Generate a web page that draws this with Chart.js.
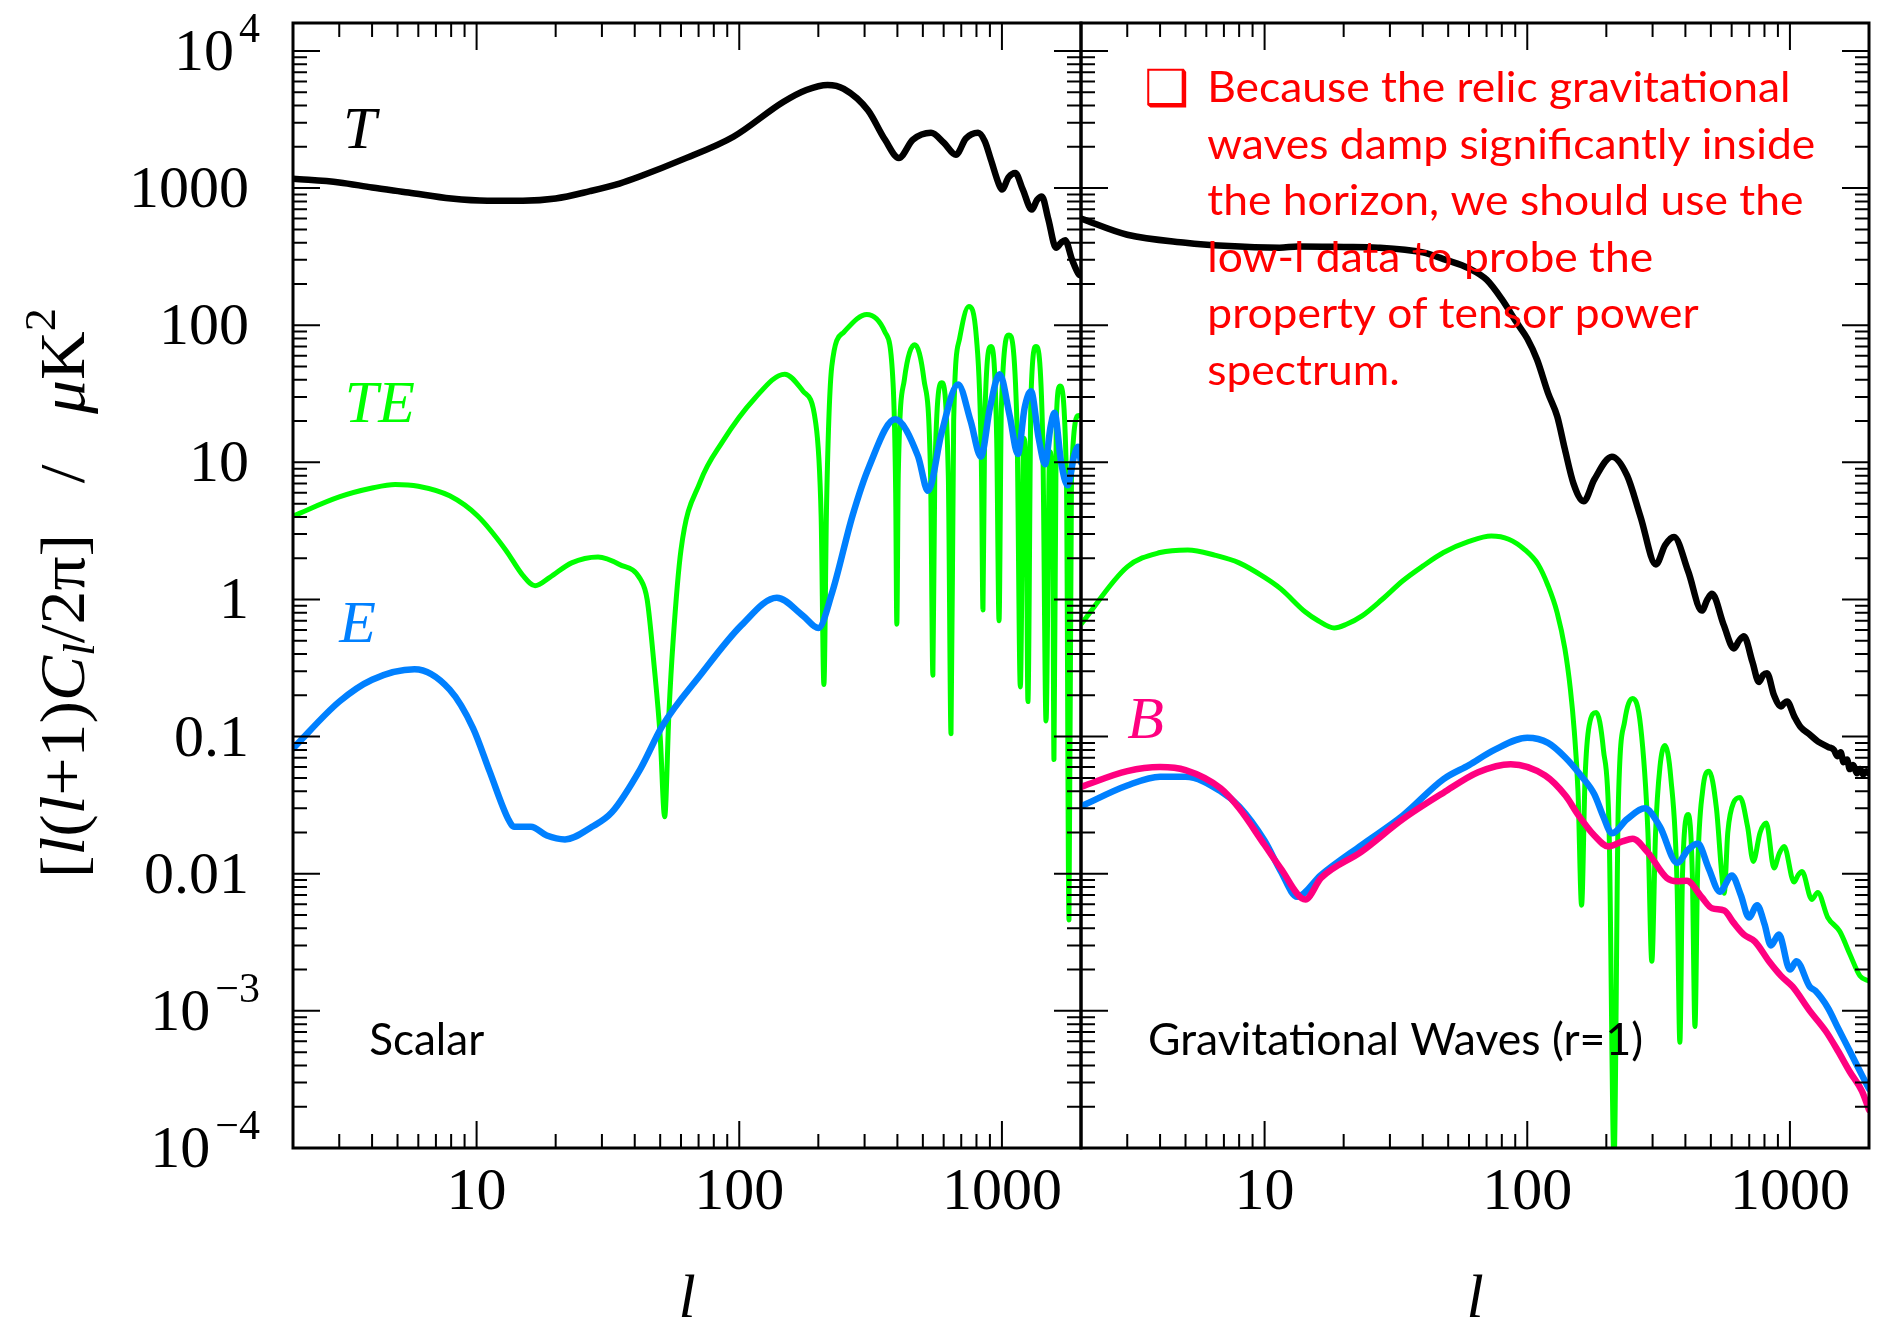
<!DOCTYPE html>
<html>
<head>
<meta charset="utf-8">
<script src="https://cdn.jsdelivr.net/npm/chart.js@4.4.1/dist/chart.umd.min.js"></script>
<style>
  html, body { margin: 0; padding: 0; background: #fff; }
  #wrap { position: relative; width: 1878px; height: 1334px; }
  #wrap canvas { position: absolute; left: 0; top: 0; }
</style>
</head>
<body>
<div id="wrap">
  <canvas id="chart-scalar" width="1878" height="1334"></canvas>
  <canvas id="chart-tensor" width="1878" height="1334"></canvas>
</div>
<script>
'use strict';

// ─── Data: scalar panel (multipole l, |l(l+1)C_l/2pi| in uK^2) ────────────────

const lScalarT = [2, 3, 4, 5.5, 8, 11, 15, 20, 27, 35, 42, 60, 95, 147, 180, 217, 250, 309, 359, 405,
  458, 537, 601, 668, 729, 811, 860, 908, 975, 1000, 1060, 1124, 1200, 1300, 1360, 1419, 1500, 1607, 1680, 1740,
  1850, 1965, 2000];
const scalarT = [1170, 1100, 1010, 930, 840, 810, 810, 840, 950, 1080, 1220, 1600, 2370, 4250, 5200, 5660, 5300, 3700, 2250, 1660,
  2250, 2530, 2140, 1750, 2300, 2530, 2200, 1610, 1060, 975, 1200, 1290, 980, 697, 820, 870, 600, 368, 400, 417,
  300, 234, 230];

const lScalarTE = [2, 3, 4, 4.9, 6, 7.9, 10.1, 12.9, 15, 16.7, 19, 23, 29, 35, 42, 44.6, 47.4, 50, 52, 54,
  56, 60, 71, 86, 114, 149, 175, 195, 205, 210, 215, 225, 250, 306, 359, 385, 394, 398, 403, 425,
  466, 505, 535, 546, 555, 590, 625, 640, 655, 690, 748, 800, 835, 847, 860, 908, 955, 975, 995, 1064,
  1140, 1175, 1210, 1235, 1256, 1290, 1348, 1430, 1472, 1520, 1560, 1578, 1610, 1663, 1760, 1800, 1840, 1962, 2000];
const scalarTE = [4.06, 5.6, 6.5, 6.9, 6.7, 5.7, 4.06, 2.3, 1.5, 1.26, 1.45, 1.85, 2.04, 1.8, 1.41, 1.0, 0.33, 0.1, 0.026, 0.15,
  0.5, 2.3, 7.2, 14, 29, 44, 33, 20, 4, 0.24, 5, 50, 89, 120, 89, 38, 6, 0.66, 8, 40,
  72, 40, 8, 0.28, 8, 38, 8, 0.105, 20, 80, 137, 80, 10, 0.84, 20, 70, 15, 0.7, 25, 85,
  20, 0.23, 15, 10, 0.18, 30, 70, 15, 0.13, 12, 5, 0.068, 20, 36, 8, 0.0046, 8, 22, 22];

const lScalarE = [2, 3, 4, 5.8, 7.9, 9.7, 11.2, 13.2, 13.9, 16.1, 18.5, 21.7, 27.5, 32.7, 42, 51, 71, 102, 139, 175,
  200, 225, 270, 312, 392, 479, 523, 590, 681, 760, 832, 900, 980, 1070, 1150, 1220, 1290, 1380, 1460, 1530,
  1585, 1680, 1780, 1880, 1950, 2000];
const scalarE = [0.082, 0.18, 0.26, 0.31, 0.22, 0.115, 0.056, 0.025, 0.022, 0.022, 0.019, 0.0178, 0.022, 0.028, 0.058, 0.12, 0.28, 0.65, 1.03, 0.76,
  0.62, 1.1, 4.1, 9.3, 20.6, 11.1, 6.2, 16.6, 37, 20, 11, 25, 44, 22, 11.5, 25, 33, 15, 9.7, 18,
  23, 10, 6.8, 11, 13, 10];

// ─── Data: gravitational wave panel (r = 1) ───────────────────────────────────

const lTensorT = [2, 3, 5, 7, 11.4, 13.4, 20, 27, 40, 49, 60, 70, 80, 91, 100, 109, 120, 130, 139, 150,
  164, 180, 210, 240, 270, 309, 335, 362, 410, 462, 485, 505, 560, 612, 640, 668, 720, 762, 790, 818,
  870, 925, 950, 975, 1040, 1100, 1180, 1280, 1400, 1470, 1515, 1560, 1600, 1650, 1690, 1740, 1800, 1850, 1900, 1950, 2000];
const tensorT = [600, 457, 400, 380, 368, 375, 372, 368, 340, 300, 260, 215, 155, 105, 80, 56, 32, 21.7, 12.5, 7,
  5.2, 7.5, 11, 8, 4, 1.8, 2.5, 2.86, 1.6, 0.83, 1.0, 1.1, 0.65, 0.44, 0.5, 0.54, 0.35, 0.25, 0.28, 0.29,
  0.2, 0.166, 0.175, 0.18, 0.14, 0.117, 0.105, 0.092, 0.084, 0.08, 0.072, 0.077, 0.065, 0.068, 0.058, 0.062, 0.054, 0.058, 0.053, 0.056, 0.054];

const lTensorTE = [2, 3, 4, 5.1, 6.5, 8, 10, 11.5, 14.3, 16, 18.4, 20.5, 23.5, 28, 33.6, 40, 48, 60, 73, 85,
  98, 110, 120, 130, 139, 146, 151, 156, 161, 166, 172, 183, 195, 205, 214, 222, 235, 252, 270, 288,
  298, 308, 320, 334, 352, 372, 381, 390, 410, 425, 435, 445, 465, 492, 525, 550, 562, 580, 610, 646,
  690, 725, 770, 813, 870, 910, 951, 1036, 1075, 1112, 1211, 1276, 1393, 1548, 1690, 1847, 2000];
const tensorTE = [0.66, 1.73, 2.2, 2.3, 2.1, 1.85, 1.45, 1.2, 0.81, 0.7, 0.62, 0.66, 0.76, 1.0, 1.37, 1.75, 2.2, 2.65, 2.9, 2.75,
  2.3, 1.8, 1.26, 0.8, 0.44, 0.22, 0.11, 0.04, 0.0059, 0.05, 0.12, 0.15, 0.08, 0.02, 0.00008, 0.03, 0.13, 0.19, 0.12, 0.02,
  0.0023, 0.02, 0.06, 0.086, 0.05, 0.008, 0.00059, 0.01, 0.027, 0.01, 0.00077, 0.01, 0.04, 0.056, 0.03, 0.01, 0.0072, 0.02, 0.033, 0.036,
  0.022, 0.0123, 0.02, 0.0234, 0.011, 0.014, 0.0158, 0.0087, 0.0098, 0.0104, 0.0065, 0.0073, 0.0048, 0.0038, 0.0026, 0.0018, 0.00165];

const lTensorE = [2, 3, 4, 5, 6.8, 8, 10, 11.5, 13.3, 16.4, 23.4, 33.6, 48, 60, 75, 100, 120, 139, 160, 180,
  195, 210, 240, 280, 320, 372, 410, 446, 490, 541, 601, 650, 698, 750, 800, 846, 908, 1000, 1059, 1190,
  1250, 1396, 1524, 1690, 1880, 2000];
const tensorE = [0.031, 0.044, 0.051, 0.051, 0.04, 0.031, 0.0174, 0.0105, 0.0068, 0.0098, 0.0162, 0.0266, 0.049, 0.062, 0.08, 0.098, 0.09, 0.071, 0.052, 0.038,
  0.026, 0.0197, 0.025, 0.030, 0.022, 0.012, 0.015, 0.0166, 0.011, 0.0074, 0.0097, 0.007, 0.0048, 0.0059, 0.0043, 0.003, 0.0036, 0.002, 0.0023, 0.0015,
  0.0014, 0.00105, 0.00075, 0.00051, 0.00034, 0.00027];

const lTensorB = [2, 3, 4, 5, 6.8, 8, 10, 11.5, 14.3, 16.4, 23.4, 33.6, 48, 65, 86.5, 117, 140, 156, 180, 204,
  230, 252, 286, 340, 372, 405, 460, 505, 562, 610, 668, 736, 832, 925, 1024, 1190, 1370, 1524, 1690, 1880, 2000];
const tensorB = [0.043, 0.056, 0.06, 0.057, 0.042, 0.030, 0.0162, 0.011, 0.0065, 0.0093, 0.0145, 0.025, 0.039, 0.055, 0.063, 0.052, 0.037, 0.027, 0.019, 0.0158,
  0.0172, 0.018, 0.0145, 0.0093, 0.0088, 0.0089, 0.0068, 0.0056, 0.0054, 0.0044, 0.0036, 0.0032, 0.0023, 0.0018, 0.0015, 0.001, 0.00071, 0.00051, 0.00036, 0.00026, 0.00019];

// ─── Axis ticks ───────────────────────────────────────────────────────────────

const yMajorTicks = [1e-4, 1e-3, 1e-2, 0.1, 1, 10, 100, 1000, 1e4];
const yTickText   = ['10^\u22124', '10^\u22123', '0.01', '0.1', '1', '10', '100', '1000', '10^4'];
const xMajorTicks = [10, 100, 1000];
const xTickText   = ['10', '100', '1000'];
const minorSteps  = [2, 3, 4, 5, 6, 7, 8, 9];

const L_MIN = 2, L_MAX = 2000, Y_MIN = 1e-4, Y_MAX = 16000;

// ─── Style ────────────────────────────────────────────────────────────────────

const C = {
  T:  '#000000',
  TE: '#00ff00',
  E:  '#0080ff',
  B:  '#ff0080',
  note: '#ff0000',
};
const SERIF = '"Liberation Serif", "DejaVu Serif", serif';
const SANS  = 'Lato, "Open Sans", sans-serif';

// ─── Helpers ─────────────────────────────────────────────────────────────────

function pts(ls, vs) {
  return ls.map(function(l, i) { return { x: l, y: vs[i] }; });
}

function curve(label, ls, vs, color, width, order) {
  return {
    label: label, data: pts(ls, vs), borderColor: color, borderWidth: width,
    pointRadius: 0, fill: false, cubicInterpolationMode: 'monotone', order: order,
  };
}

function minorOf(majors, lo, hi) {
  const out = [];
  majors.forEach(function(d) {
    minorSteps.forEach(function(m) { const v = d * m; if (v > lo && v < hi) out.push(v); });
  });
  return out;
}

function hLine(ctx, x1, y1, x2, y2) { ctx.moveTo(x1, y1); ctx.lineTo(x2, y2); }

// ─── Panel plugin: frame, inward ticks, labels ────────────────────────────────

function makePanelPlugin(cfg) {
  return {
    id: 'panel',
    afterDatasetsDraw: function(chart) {
      const ctx = chart.ctx, a = chart.chartArea;
      const xs = chart.scales.x, ys = chart.scales.y;
      ctx.save();

      // ticks
      ctx.strokeStyle = '#000';
      ctx.lineWidth = 2;
      ctx.beginPath();
      const yMinor = minorOf(yMajorTicks, Y_MIN, Y_MAX);
      yMajorTicks.forEach(function(v) {
        const py = ys.getPixelForValue(v);
        hLine(ctx, a.left, py, a.left + 27, py); hLine(ctx, a.right, py, a.right - 27, py);
      });
      yMinor.forEach(function(v) {
        const py = ys.getPixelForValue(v);
        hLine(ctx, a.left, py, a.left + 14, py); hLine(ctx, a.right, py, a.right - 14, py);
      });
      const xMinor = minorOf([1, 10, 100, 1000], L_MIN, L_MAX);
      xMajorTicks.forEach(function(v) {
        const px = xs.getPixelForValue(v);
        hLine(ctx, px, a.bottom, px, a.bottom - 27); hLine(ctx, px, a.top, px, a.top + 27);
      });
      xMinor.forEach(function(v) {
        const px = xs.getPixelForValue(v);
        hLine(ctx, px, a.bottom, px, a.bottom - 14); hLine(ctx, px, a.top, px, a.top + 14);
      });
      ctx.stroke();

      // frame
      ctx.lineWidth = 3;
      ctx.strokeRect(a.left, a.top, a.right - a.left, a.bottom - a.top);

      // x tick labels + axis title
      ctx.fillStyle = '#000';
      ctx.font = '60px ' + SERIF;
      ctx.textAlign = 'center';
      ctx.textBaseline = 'alphabetic';
      xMajorTicks.forEach(function(v, i) {
        ctx.fillText(xTickText[i], xs.getPixelForValue(v), a.bottom + 61);
      });
      ctx.font = 'italic 62px ' + SERIF;
      ctx.fillText('l', (a.left + a.right) / 2, a.bottom + 169);

      // y tick labels (left panel only)
      if (cfg.yLabels) {
        yMajorTicks.forEach(function(v, i) {
          const py = ys.getPixelForValue(v) + 19;
          const txt = yTickText[i];
          if (txt.indexOf('^') >= 0) {
            const parts = txt.split('^');
            ctx.font = '42px ' + SERIF;
            const ew = ctx.measureText(parts[1]).width;
            ctx.textAlign = 'left';
            ctx.fillText(parts[1], a.left - 33 - ew, py - 28);
            ctx.font = '60px ' + SERIF;
            ctx.textAlign = 'right';
            ctx.fillText(parts[0], a.left - 33 - ew - 5, py);
          } else {
            ctx.font = '60px ' + SERIF;
            ctx.textAlign = 'right';
            ctx.fillText(txt, a.left - 44, py);
          }
        });
      }

      // y axis title
      if (cfg.yTitle) drawYTitle(ctx, cfg.yTitle);

      // curve names and panel captions, anchored in data coordinates
      ctx.textAlign = 'left';
      (cfg.labels || []).forEach(function(lb) {
        const px = xs.getPixelForValue(lb.l), py = ys.getPixelForValue(lb.v);
        ctx.font = lb.font;
        ctx.fillStyle = lb.color;
        if (lb.width) {
          const w = ctx.measureText(lb.text).width;
          ctx.save();
          ctx.translate(px, py);
          ctx.scale(lb.width / w, 1);
          ctx.fillText(lb.text, 0, 0);
          ctx.restore();
        } else {
          ctx.fillText(lb.text, px, py);
        }
      });

      if (cfg.note) drawNote(ctx, xs, ys, cfg.note);
      ctx.restore();
    },
  };
}

function drawYTitle(ctx, t) {
  const fonts = {
    rm:  '64px ' + SERIF,
    it:  'italic 64px ' + SERIF,
    sub: 'italic 44px ' + SERIF,
    sup: '44px ' + SERIF,
  };
  const dy = { rm: 0, it: 0, sub: 10, sup: -29 };
  const parts = [
    ['[', 'rm'], ['l', 'it'], ['(', 'rm'], ['l', 'it'], ['+1)', 'rm'], ['C', 'it'], ['l', 'sub'],
    ['/2\u03c0]', 'rm'], ['   /   ', 'rm'], ['\u03bc', 'it'], ['K', 'rm'], ['2', 'sup'],
  ];
  let total = 0;
  const widths = parts.map(function(p) {
    ctx.font = fonts[p[1]];
    const w = ctx.measureText(p[0]).width;
    total += w;
    return w;
  });
  ctx.save();
  ctx.translate(t.x, t.y);
  ctx.rotate(-Math.PI / 2);
  ctx.scale(t.length / total, 1);
  ctx.fillStyle = '#000';
  ctx.textAlign = 'left';
  ctx.textBaseline = 'alphabetic';
  let x = -total / 2;
  parts.forEach(function(p, i) {
    ctx.font = fonts[p[1]];
    ctx.fillText(p[0], x, dy[p[1]]);
    x += widths[i];
  });
  ctx.restore();
}

function drawNote(ctx, xs, ys, n) {
  const px = xs.getPixelForValue(n.l), py = ys.getPixelForValue(n.v);
  ctx.fillStyle = C.note;
  ctx.textAlign = 'left';
  ctx.font = 'bold 50px "DejaVu Sans", sans-serif';
  ctx.fillText('\u2751', px - 6, py + 3);
  ctx.font = n.font;
  const sx = n.refWidth / ctx.measureText(n.lines[1]).width;
  n.lines.forEach(function(line, i) {
    ctx.save();
    ctx.translate(px + 57, py + i * n.lineGap);
    ctx.scale(sx, 1);
    ctx.fillText(line, 0, 0);
    ctx.restore();
  });
}

// ─── Charts ───────────────────────────────────────────────────────────────────

function makeChart(id, datasets, padding, cfg) {
  return new Chart(document.getElementById(id).getContext('2d'), {
    type: 'line',
    data: { datasets: datasets },
    options: {
      responsive: false,
      animation: false,
      devicePixelRatio: 1,
      layout: { padding: padding },
      scales: {
        x: { type: 'logarithmic', min: L_MIN, max: L_MAX, display: false },
        y: { type: 'logarithmic', min: Y_MIN, max: Y_MAX, display: false },
      },
      plugins: { legend: { display: false }, tooltip: { enabled: false } },
      elements: { line: { borderCapStyle: 'round', borderJoinStyle: 'round' } },
    },
    plugins: [makePanelPlugin(cfg)],
  });
}

makeChart('chart-scalar', [
  curve('T',  lScalarT,  scalarT,  C.T,  6.5, 4),
  curve('TE', lScalarTE, scalarTE, C.TE, 5, 3),
  curve('E',  lScalarE,  scalarE,  C.E,  6.5, 2),
], { left: 293, right: 797, top: 23, bottom: 186 }, {
  yLabels: true,
  yTitle: { x: 84, y: 593, length: 570 },
  labels: [
    { text: 'T',  l: 3.1,  v: 1960,  color: C.T,  font: 'italic 60px ' + SERIF },
    { text: 'TE', l: 3.15, v: 19.7,  color: C.TE, font: 'italic 60px ' + SERIF },
    { text: 'E',  l: 3.0,  v: 0.49,  color: C.E,  font: 'italic 60px ' + SERIF },
    { text: 'Scalar', l: 3.9, v: 4.75e-4, color: '#000', font: '45px ' + SANS, width: 115 },
  ],
});

makeChart('chart-tensor', [
  curve('T',  lTensorT,  tensorT,  C.T,  6.5, 4),
  curve('TE', lTensorTE, tensorTE, C.TE, 5, 3),
  curve('E',  lTensorE,  tensorE,  C.E,  6.5, 2),
  curve('B',  lTensorB,  tensorB,  C.B,  6.5, 1),
], { left: 1081, right: 9, top: 23, bottom: 186 }, {
  labels: [
    { text: 'B', l: 3.0, v: 0.0975, color: C.B, font: 'italic 60px ' + SERIF },
    { text: 'Gravitational Waves (r=1)', l: 3.6, v: 4.75e-4, color: '#000', font: '45px ' + SANS, width: 495 },
  ],
  note: {
    l: 3.67, v: 4250, font: '43px ' + SANS, refWidth: 608, lineGap: 56.6,
    lines: [
      'Because the relic gravitational',
      'waves damp significantly inside',
      'the horizon, we should use the',
      'low-l data to probe the',
      'property of tensor power',
      'spectrum.',
    ],
  },
});
</script>
</body>
</html>
